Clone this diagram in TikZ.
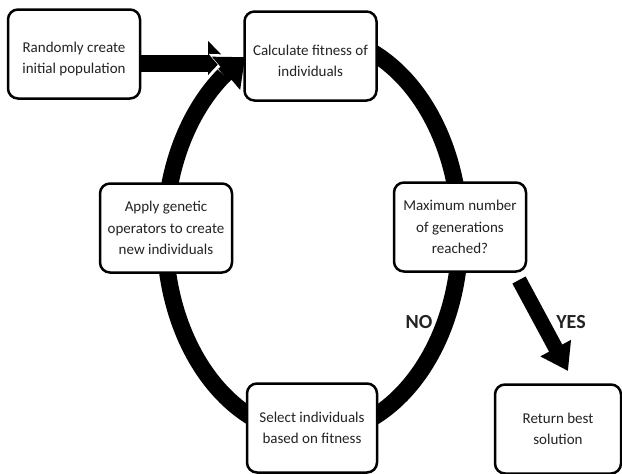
\documentclass[tikz,border=0pt]{standalone}
\usepackage{fontspec}
\setmainfont{Carlito}
\usetikzlibrary{arrows.meta,calc}
\definecolor{txt}{RGB}{35,35,35}
\newcommand{\lowerstrut}{\rule{0pt}{20.5pt}}
\tikzset{
  box/.style={draw=black, line width=2.5pt, rounded corners=10pt, fill=white,
    minimum width=132pt, minimum height=89pt, align=center, text=txt,
    font=\fontsize{15}{21.5}\selectfont, inner sep=2pt},
  fat/.style={line width=17pt, black},
  lbl/.style={font=\bfseries\fontsize{20}{24}\selectfont, text=txt}
}
\begin{document}
\begin{tikzpicture}[x=1pt,y=-1pt]
\useasboundingbox (0,0) rectangle (622,474);
% coordinates
\coordinate (tipA) at (230,63.5);
\coordinate (startA) at (141,63.5);
\coordinate (ringA) at ({312.5+147.5*cos(127)},{235-200*sin(127)});
\coordinate (ringTip) at ({312.5+147.5*cos(117.2)},{235-200*sin(117.2)});
\coordinate (yesS) at (519,280);
\coordinate (yesT) at (568,371);
% straight arrow
\draw[fat, -{Triangle[length=22pt,width=44pt]}] (startA) -- (tipA);
% ring (white outline then black)
\draw[line width=23pt, white] plot[domain=150:-233, samples=200] ({312.5+147.5*cos(\x)},{235-200*sin(\x)});
\draw[line width=23pt, white, -{Triangle[length=29pt,width=50pt]}] (ringA) -- ($(ringA)!1.12!(ringTip)$);
\draw[fat] plot[domain=90:-233, samples=200] ({312.5+147.5*cos(\x)},{235-200*sin(\x)});
\draw[fat, -{Triangle[length=25pt,width=42pt]}] (ringA) -- (ringTip);
% yes arrow
\draw[line width=15pt, black, -{Triangle[length=26pt,width=33pt]}] (yesS) -- (yesT);
% boxes
\node[box] (rand) at (74,54) {\lowerstrut Randomly create\\initial population};
\node[box] (calc) at (310.5,56) {\lowerstrut Calculate fitness of\\individuals};
\node[box] (apply) at (166,228) {Apply genetic\\operators to create\\new individuals};
\node[box] (max) at (460,227) {Maximum number\\of generations\\reached?};
\node[box, minimum width=130pt] (sel) at (312,428) {Select individuals\\based on fitness};
\node[box, minimum width=126pt] (ret) at (558,429) {Return best\\solution};
% labels
\node[lbl] (no) at (419,322) {NO};
\node[lbl] (yes) at (571,322) {YES};
\end{tikzpicture}
\end{document}
